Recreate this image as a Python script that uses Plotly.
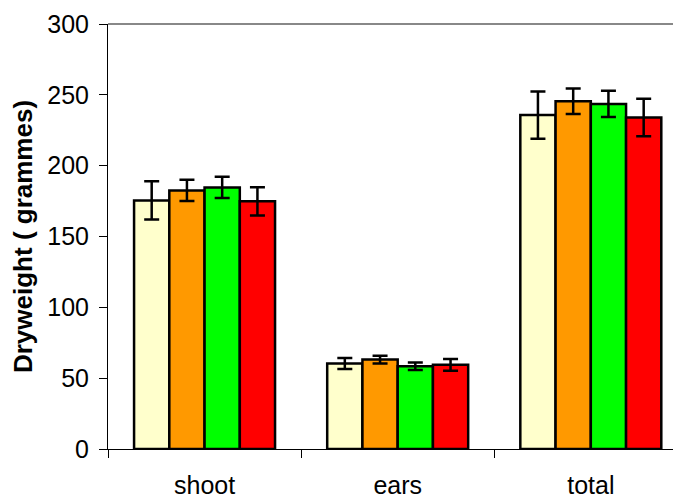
import plotly.graph_objects as go

categories = ["shoot", "ears", "total"]
series_names = ["Treatment 1", "Treatment 2", "Treatment 3", "Treatment 4"]
series_colors = ["#FFFFCC", "#FF9900", "#00FF00", "#FF0000"]
values = [
    [175.5, 60.3, 235.7],
    [182.5, 63.1, 245.5],
    [184.6, 58.4, 243.6],
    [174.8, 59.4, 234.0],
]
errors = [
    [13.5, 3.9, 16.7],
    [7.5, 2.8, 9.0],
    [7.5, 2.7, 9.3],
    [10.0, 4.2, 13.2],
]
y_ticks = [0, 50, 100, 150, 200, 250, 300]

fig = go.Figure()
for name, color, vals, errs in zip(series_names, series_colors, values, errors):
    fig.add_trace(go.Bar(
        x=categories, y=vals, name=name,
        marker=dict(color=color, line=dict(color="black", width=2.5)),
        error_y=dict(type="data", array=errs, visible=True,
                     color="black", thickness=2.5, width=7.5),
    ))

fig.update_layout(
    width=673, height=491,
    margin=dict(l=100, r=0, t=16, b=46),
    paper_bgcolor="white", plot_bgcolor="white",
    barmode="group", bargap=0.27, bargroupgap=0,
    showlegend=False,
    font=dict(family="Liberation Sans, Arial, sans-serif", color="black"),
    xaxis=dict(
        range=[-0.5, 2.467], showline=True, linecolor="black", linewidth=1,
        ticks="outside", tickson="boundaries", ticklen=8, tickcolor="black",
        tickfont=dict(size=25), showgrid=False, zeroline=False,
        ticklabelstandoff=14,
    ),
    yaxis=dict(
        range=[0, 300], tickvals=y_ticks, showline=True, linecolor="black",
        linewidth=1, ticks="outside", ticklen=8, tickcolor="black",
        tickfont=dict(size=25), showgrid=False, zeroline=False,
        ticklabelstandoff=5,
        title=dict(text="<b>Dryweight ( grammes)</b>", font=dict(size=26), standoff=10),
    ),
    shapes=[dict(type="line", xref="paper", yref="paper", x0=0, x1=1, y0=1, y1=1,
                 line=dict(color="#606060", width=1.5))],
)

fig.write_html("out.html")
